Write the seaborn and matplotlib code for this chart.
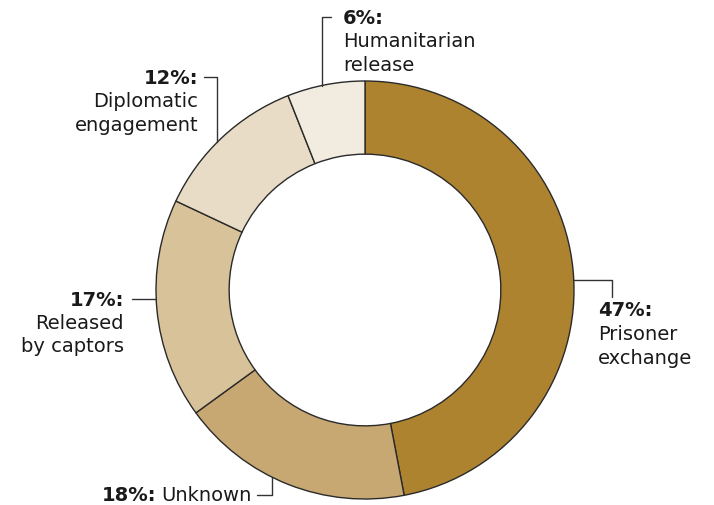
import matplotlib
matplotlib.use("Agg")
import matplotlib.pyplot as plt
import seaborn as sns

categories = ["Prisoner exchange", "Unknown", "Released by captors", "Diplomatic engagement", "Humanitarian release"]
values = [47, 18, 17, 12, 6]
pct_labels = ["47%:", "18%:", "17%:", "12%:", "6%:"]
colors = ["#AD8330", "#C8A872", "#D8C299", "#E8DCC6", "#F1EBE0"]

sns.set_theme(style="white")
plt.rcParams['font.family'] = ['DejaVu Sans']

W, H = 714, 506
fig = plt.figure(figsize=(W / 100, H / 100), dpi=100)
ax = fig.add_axes([0, 0, 1, 1])

cx, cy, R = 365, 291, 209
wedges, _ = ax.pie(values, colors=colors, startangle=-90, counterclock=True,
                   radius=R, center=(cx, cy), frame=True,
                   wedgeprops=dict(width=R * 0.35, edgecolor="#2a2a2a", linewidth=1.0))
ax.set_xlim(0, W)
ax.set_ylim(H, 0)
ax.set_aspect('equal')
ax.axis('off')

lc = "#333333"
fs = 14
tc = "#1a1a1a"
ls = 23.5

def block(x, y, bold, lines, ha):
    ax.text(x, y, bold, ha=ha, va="center", fontsize=fs, fontweight="bold", color=tc)
    for i, t in enumerate(lines):
        ax.text(x, y + ls * (i + 1), t, ha=ha, va="center", fontsize=fs, color=tc)

# 6% Humanitarian release
ax.plot([322, 322, 331], [87, 18, 18], color=lc, lw=1)
block(343, 18, pct_labels[4], ["Humanitarian", "release"], "left")

# 12% Diplomatic engagement
ax.plot([204, 217, 217], [78, 78, 143], color=lc, lw=1)
block(198, 78, pct_labels[3], ["Diplomatic", "engagement"], "right")

# 47% Prisoner exchange
ax.plot([573, 612, 612], [281, 281, 298], color=lc, lw=1)
block(598, 311, pct_labels[0], ["Prisoner", "exchange"], "left")

# 17% Released by captors
ax.plot([132, 156], [300, 300], color=lc, lw=1)
block(124, 300, pct_labels[2], ["Released", "by captors"], "right")

# 18% Unknown
ax.plot([257, 272, 272], [496, 496, 478], color=lc, lw=1)
t_unk = ax.text(252, 496, categories[1], ha="right", va="center", fontsize=fs, color=tc)
fig.canvas.draw()
bb = t_unk.get_window_extent(renderer=fig.canvas.get_renderer())
x_left = ax.transData.inverted().transform((bb.x0, bb.y0))[0]
ax.text(x_left - 5, 496, pct_labels[1], ha="right", va="center", fontsize=fs, fontweight="bold", color=tc)

fig.savefig("out.png", dpi=100)
